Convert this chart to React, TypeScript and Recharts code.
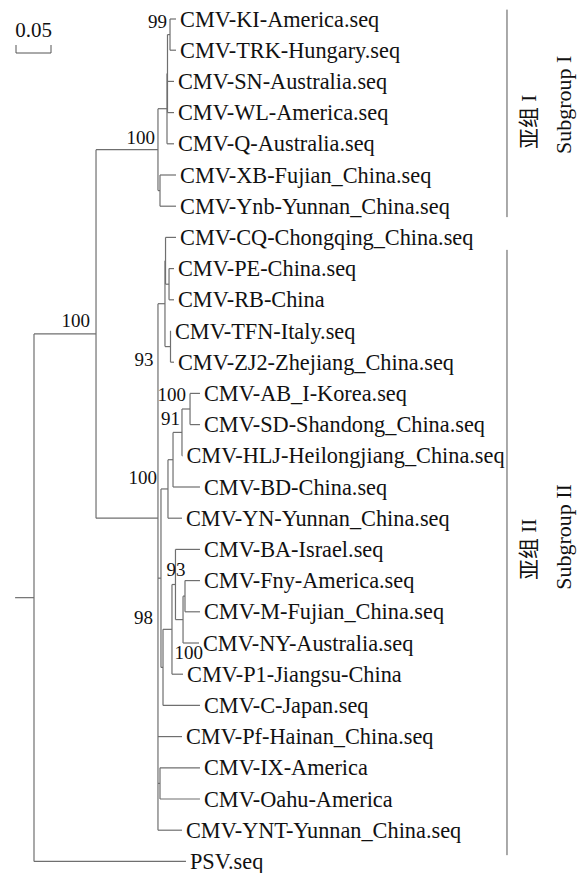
import { ComposedChart, ReferenceLine, Scatter, XAxis, YAxis } from "recharts";

// leaves, top to bottom
const leafNames = [
	"CMV-KI-America.seq",
	"CMV-TRK-Hungary.seq",
	"CMV-SN-Australia.seq",
	"CMV-WL-America.seq",
	"CMV-Q-Australia.seq",
	"CMV-XB-Fujian_China.seq",
	"CMV-Ynb-Yunnan_China.seq",
	"CMV-CQ-Chongqing_China.seq",
	"CMV-PE-China.seq",
	"CMV-RB-China",
	"CMV-TFN-Italy.seq",
	"CMV-ZJ2-Zhejiang_China.seq",
	"CMV-AB_I-Korea.seq",
	"CMV-SD-Shandong_China.seq",
	"CMV-HLJ-Heilongjiang_China.seq",
	"CMV-BD-China.seq",
	"CMV-YN-Yunnan_China.seq",
	"CMV-BA-Israel.seq",
	"CMV-Fny-America.seq",
	"CMV-M-Fujian_China.seq",
	"CMV-NY-Australia.seq",
	"CMV-P1-Jiangsu-China",
	"CMV-C-Japan.seq",
	"CMV-Pf-Hainan_China.seq",
	"CMV-IX-America",
	"CMV-Oahu-America",
	"CMV-YNT-Yunnan_China.seq",
	"PSV.seq",
];

// distance from root of each leaf
const leafDepth = [
	0.2029, 0.2029, 0.2, 0.2, 0.2, 0.2029, 0.2029, 0.2029, 0.2, 0.2, 0.1957,
	0.2, 0.2371, 0.2371, 0.2121, 0.2371, 0.2114, 0.2371, 0.2371, 0.2371, 0.2357,
	0.2129, 0.2371, 0.2114, 0.2371, 0.2371, 0.2114, 0.2171,
];

// internal nodes: id, distance from root, children (leaf index or node id), bootstrap
const internalNodes: [string, number, (number | string)[], string][] = [
	["root", 0, ["ingroup", 27], ""],
	["ingroup", 0.0886, ["subI", "subII"], "100"],
	["subI", 0.1771, ["c5", "xby"], "100"],
	["c5", 0.19, ["c3", 4], ""],
	["c3", 0.1907, ["kt", 2, 3], ""],
	["kt", 0.1943, [0, 1], "99"],
	["xby", 0.18, [5, 6], ""],
	["subII", 0.1771, ["uc", "m1", 23, "ixo", 26], ""],
	["uc", 0.1871, ["cqpr", "tz"], ""],
	["cqpr", 0.1879, [7, "pr"], ""],
	["pr", 0.1929, [8, 9], ""],
	["tz", 0.195, [10, 11], "93"],
	["m1", 0.1814, ["yn", "cn"], ""],
	["yn", 0.1914, ["bd", 16], "100"],
	["bd", 0.1986, ["hlj", 15], ""],
	["hlj", 0.2114, ["absd", 14], "91"],
	["absd", 0.2229, [12, 13], "100"],
	["cn", 0.1843, ["p1", 22], ""],
	["p1", 0.1971, ["ba", 21], "98"],
	["ba", 0.2021, [17, "fmny"], "93"],
	["fmny", 0.2129, ["fm", 20], "100"],
	["fm", 0.2157, [18, 19], ""],
	["ixo", 0.18, [24, 25], ""],
];

// node rows read directly off the picture where the layout is not a midpoint
const nodeRowOverride: Record<string, number> = { subII: 16.0 };
const rootStub = 0.027;

const scaleBar = { x: -0.0257, row: 1.09, length: 0.05, label: "0.05" };

const groups = [
	{ cn: "亚组 I", en: "Subgroup I", from: -0.3, to: 6.35, cnRow: 3.3, enRow: 2.75 },
	{ cn: "亚组 II", en: "Subgroup II", from: 7.4, to: 26.8, cnRow: 17.0, enRow: 16.6 },
];
const groupDepth = 0.6757;

// ---- layout ----
const W = 579;
const H = 873;
const PX_PER_UNIT = 700;
const ROOT_PX = 34;
const ROW0_PX = 19;
const ROW_PX = 31.2;
const FONT = "'Liberation Serif', 'Times New Roman', 'Noto Sans CJK SC', serif";
const LINE = "#6f6f6f";

// bootstrap label offsets (px) relative to their node
const supportOffset: Record<string, [number, number]> = {
	kt: [-3, -13],
	subI: [-3, -12],
	ingroup: [-6, -13],
	tz: [-17, 13],
	absd: [-4, -15],
	hlj: [-2, -14],
	yn: [-11, -11],
	ba: [10, -15],
	fmny: [20, 33],
	p1: [-19, -12],
};

const nodeMap: Record<string, { depth: number; children: (number | string)[]; support: string }> = {};
internalNodes.forEach(([id, depth, children, support]) => {
	nodeMap[id] = { depth, children, support };
});

const rowCache: Record<string, number> = {};
function rowOf(ref: number | string): number {
	if (typeof ref === "number") return ref;
	if (rowCache[ref] !== undefined) return rowCache[ref];
	const kids = nodeMap[ref].children.map(rowOf);
	const r =
		nodeRowOverride[ref] !== undefined
			? nodeRowOverride[ref]
			: (kids[0] + kids[kids.length - 1]) / 2;
	rowCache[ref] = r;
	return r;
}
function depthOf(ref: number | string): number {
	return typeof ref === "number" ? leafDepth[ref] : nodeMap[ref].depth;
}

type Seg = { x1: number; y1: number; x2: number; y2: number };
const segments: Seg[] = [];
internalNodes.forEach(([id, depth, children]) => {
	const rows = children.map(rowOf);
	segments.push({ x1: depth, y1: Math.min(...rows), x2: depth, y2: Math.max(...rows) });
	children.forEach((c, i) => {
		segments.push({ x1: depth, y1: rows[i], x2: depthOf(c), y2: rows[i] });
	});
});
segments.push({ x1: -rootStub, y1: rowOf("root"), x2: 0, y2: rowOf("root") });

const leafData = leafNames.map((name, i) => ({ x: leafDepth[i], y: i, name }));
const supportData = internalNodes
	.filter(([, , , s]) => s !== "")
	.map(([id, depth, , s]) => ({ x: depth, y: rowOf(id), id, s }));

const xDomain = [-ROOT_PX / PX_PER_UNIT, (W - ROOT_PX) / PX_PER_UNIT];
const yDomain = [-ROW0_PX / ROW_PX, (H - ROW0_PX) / ROW_PX];
const tickRows = 8 / ROW_PX;

export default function App() {
	return (
		<div style={{ position: "absolute", left: 0, top: 0, background: "#fff" }}>
			<ComposedChart width={W} height={H} margin={{ top: 0, right: 0, bottom: 0, left: 0 }}>
				<XAxis type="number" dataKey="x" domain={xDomain} allowDataOverflow hide />
				<YAxis type="number" dataKey="y" domain={yDomain} allowDataOverflow reversed hide />
				{segments.map((s, i) => (
					<ReferenceLine
						key={`s${i}`}
						segment={[
							{ x: s.x1, y: s.y1 },
							{ x: s.x2, y: s.y2 },
						]}
						stroke={LINE}
						strokeWidth={1.2}
						ifOverflow="visible"
					/>
				))}
				{/* scale bar */}
				<ReferenceLine
					segment={[
						{ x: scaleBar.x, y: scaleBar.row },
						{ x: scaleBar.x + scaleBar.length, y: scaleBar.row },
					]}
					stroke="#555"
					ifOverflow="visible"
				/>
				<ReferenceLine
					segment={[
						{ x: scaleBar.x, y: scaleBar.row },
						{ x: scaleBar.x, y: scaleBar.row - tickRows },
					]}
					stroke="#555"
					ifOverflow="visible"
				/>
				<ReferenceLine
					segment={[
						{ x: scaleBar.x + scaleBar.length, y: scaleBar.row },
						{ x: scaleBar.x + scaleBar.length, y: scaleBar.row - tickRows },
					]}
					stroke="#555"
					ifOverflow="visible"
				/>
				{/* group brackets */}
				{groups.map((g) => (
					<ReferenceLine
						key={g.en}
						segment={[
							{ x: groupDepth, y: g.from },
							{ x: groupDepth, y: g.to },
						]}
						stroke="#555"
						ifOverflow="visible"
					/>
				))}
				<Scatter
					data={leafData}
					isAnimationActive={false}
					shape={(p: any) => (
						<text
							x={p.cx + 4}
							y={p.cy}
							dominantBaseline="central"
							fontFamily={FONT}
							fontSize={22.3}
							fill="#111"
						>
							{p.payload.name}
						</text>
					)}
				/>
				<Scatter
					data={supportData}
					isAnimationActive={false}
					shape={(p: any) => {
						const [dx, dy] = supportOffset[p.payload.id] || [-3, -12];
						return (
							<text
								x={p.cx + dx}
								y={p.cy + dy}
								textAnchor="end"
								dominantBaseline="central"
								fontFamily={FONT}
								fontSize={19}
								fill="#111"
							>
								{p.payload.s}
							</text>
						);
					}}
				/>
				<Scatter
					data={[{ x: scaleBar.x + scaleBar.length / 2, y: scaleBar.row - 0.74, t: scaleBar.label }]}
					isAnimationActive={false}
					shape={(p: any) => (
						<text
							x={p.cx}
							y={p.cy}
							textAnchor="middle"
							dominantBaseline="central"
							fontFamily={FONT}
							fontSize={21}
							fill="#111"
						>
							{p.payload.t}
						</text>
					)}
				/>
				<Scatter
					data={groups.flatMap((g) => [
						{ x: groupDepth, y: g.cnRow, t: g.cn, dx: 22, fs: 21 },
						{ x: groupDepth, y: g.enRow, t: g.en, dx: 57, fs: 22 },
					])}
					isAnimationActive={false}
					shape={(p: any) => {
						const x = p.cx + p.payload.dx;
						return (
							<text
								x={x}
								y={p.cy}
								transform={`rotate(-90 ${x} ${p.cy})`}
								textAnchor="middle"
								dominantBaseline="central"
								fontFamily={FONT}
								fontSize={p.payload.fs}
								fill="#111"
							>
								{p.payload.t}
							</text>
						);
					}}
				/>
			</ComposedChart>
		</div>
	);
}
